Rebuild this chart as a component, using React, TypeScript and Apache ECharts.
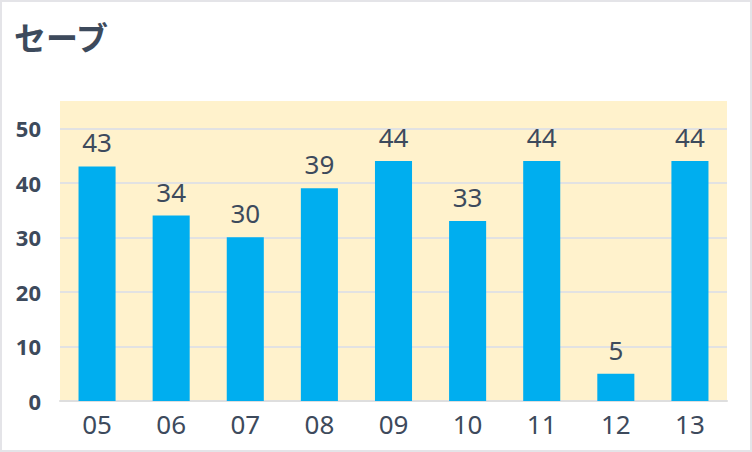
import React, { useEffect, useRef } from "react";
import * as echarts from "echarts";

const titleText = "セーブ";
const categories = ["05", "06", "07", "08", "09", "10", "11", "12", "13"];
const values = [43, 34, 30, 39, 44, 33, 44, 5, 44];

const TEXT = "#3d4a5c";

export default function App() {
  const ref = useRef<HTMLDivElement>(null);
  useEffect(() => {
    if (!ref.current) return;
    const chart = echarts.init(ref.current, undefined, { renderer: "svg" });
    chart.setOption({
      animation: false,
      backgroundColor: "#ffffff",
      title: {
        text: titleText,
        left: 9,
        top: 15,
        textStyle: {
          fontFamily: "Noto Sans CJK JP",
          fontSize: 32,
          fontWeight: "bold",
          color: TEXT,
        },
      },
      grid: {
        left: 60,
        right: 25,
        top: 101,
        bottom: 51,
        show: true,
        backgroundColor: "#fff2cc",
        borderWidth: 0,
      },
      xAxis: {
        type: "category",
        data: categories,
        axisTick: { show: false },
        axisLine: { lineStyle: { color: "#dedede", width: 2 } },
        axisLabel: {
          color: TEXT,
          fontSize: 26,
          fontFamily: "Noto Sans",
          margin: 10,
        },
      },
      yAxis: {
        type: "value",
        min: 0,
        max: 55,
        interval: 10,
        axisLine: { show: false },
        axisTick: { show: false },
        axisLabel: {
          color: TEXT,
          fontSize: 22,
          fontWeight: "bold",
          fontFamily: "Noto Sans",
          margin: 19,
          showMaxLabel: false,
        },
        splitLine: {
          showMaxLine: false,
          lineStyle: { color: "#e2e2e2", width: 2 },
        },
      },
      series: [
        {
          type: "bar",
          data: values,
          barWidth: "50%",
          itemStyle: { color: "#00aeef" },
          label: {
            show: true,
            position: "top",
            distance: 11,
            color: TEXT,
            fontSize: 26,
            fontFamily: "Noto Sans",
          },
        },
      ],
    });
    return () => chart.dispose();
  }, []);
  return (
    <div style={{ position: "fixed", left: 0, top: 0, width: 752, height: 452 }}>
      <div ref={ref} style={{ width: 752, height: 452 }} />
      <div
        style={{
          position: "absolute",
          left: 0,
          top: 0,
          width: 752,
          height: 452,
          boxSizing: "border-box",
          border: "2px solid #e4e4e8",
          pointerEvents: "none",
        }}
      />
    </div>
  );
}
